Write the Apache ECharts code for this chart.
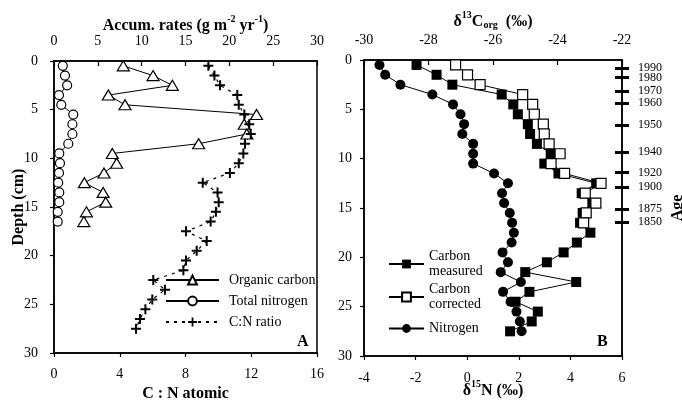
<!DOCTYPE html>
<html>
<head>
<meta charset="utf-8">
<script src="https://cdn.jsdelivr.net/npm/echarts@6/dist/echarts.min.js"></script>
<style>
  html, body { margin: 0; padding: 0; background: #fff; }
  #chart { width: 682px; height: 404px; }
</style>
</head>
<body>
<div id="chart"></div>
<script>
// depth of each slice (cm)
const depthA = [0.5, 1.5, 2.5, 3.5, 4.5, 5.5, 6.5, 7.5, 8.5, 9.5, 10.5, 11.5, 12.5, 13.5, 14.5, 15.5, 16.5];
const depthAll = [0.5, 1.5, 2.5, 3.5, 4.5, 5.5, 6.5, 7.5, 8.5, 9.5, 10.5, 11.5, 12.5, 13.5,
  14.5, 15.5, 16.5, 17.5, 18.5, 19.5, 20.5, 21.5, 22.5, 23.5, 24.5, 25.5, 26.5, 27.5];

// panel A
const organicCarbon = [7.9, 11.3, 13.5, 6.2, 8.1, 23.1, 21.7, 22.0, 16.5, 6.65, 7.15, 5.7, 3.46, 5.6, 5.9, 3.7, 3.4];
const totalNitrogen = [1.0, 1.25, 1.5, 0.57, 0.83, 2.2, 2.1, 2.1, 1.63, 0.6, 0.68, 0.57, 0.48, 0.6, 0.6, 0.42, 0.42];
const cnRatio = [9.39, 9.76, 10.1, 11.15, 11.24, 11.58, 11.88, 11.97, 11.62, 11.52, 11.24, 10.7, 9.05, 9.95,
  10.02, 9.85, 9.53, 8.03, 9.29, 8.68, 8.03, 7.87, 6.04, 6.75, 5.98, 5.56, 5.23, 4.99];

// panel B
const carbonMeasured = [-28.37, -27.75, -27.26, -25.73, -25.37, -25.23, -24.92, -24.85, -24.64, -24.21, -24.41, -23.97,
  -22.8, -23.25, -22.92, -23.22, -23.3, -22.98, -23.4, -23.81, -24.33, -25.0, -23.42, -24.87, -25.3, -24.61, -24.8, -25.47];
const carbonCorrected = [-27.16, -26.79, -26.4, -25.08, -24.77, -24.72, -24.44, -24.41, -24.26, -23.92, -24.2, -23.78,
  -22.65, -23.14, -22.81, -23.11, -23.19];
const nitrogen15 = [-3.4, -3.18, -2.59, -1.35, -0.55, -0.26, -0.12, -0.19, 0.23, 0.23, 0.23, 1.04, 1.58, 1.35,
  1.43, 1.65, 1.74, 1.81, 1.72, 1.37, 1.58, 1.3, 2.08, 1.39, 1.68, 1.91, 2.04, 2.11];

// age scale on the right of panel B
const ageDepth = [0.84, 1.79, 3.14, 4.39, 6.59, 9.3, 11.39, 12.85, 15.11, 16.4];
const ageYear = ['1990', '1980', '1970', '1960', '1950', '1940', '1920', '1900', '1875', '1850'];

const serif = 'Liberation Serif';
const black = '#000';
const plus = 'path://M4,0h2v4h4v2h-4v4h-2v-4h-4v-2h4z';

const pairs = (xs, ys) => xs.map((v, i) => [v, ys[i]]);
// labels split over two stacked axes so that close neighbours are not dropped
const ageEven = ageDepth.filter((d, i) => i % 2 === 0);
const ageOdd = ageDepth.filter((d, i) => i % 2 === 1);
const ageLabel = (v) => ageYear[ageDepth.indexOf(v)];

const nameRich = {
  b: { fontFamily: serif, fontWeight: 'bold', fontSize: 16, lineHeight: 24, color: black },
  sup: { fontFamily: serif, fontWeight: 'bold', fontSize: 10, lineHeight: 12, verticalAlign: 'top', color: black },
  sub: { fontFamily: serif, fontWeight: 'bold', fontSize: 10, lineHeight: 12, verticalAlign: 'middle', padding: [6, 0, 0, 0], color: black }
};

const labelStyle = { fontFamily: serif, fontSize: 14, color: black };
const lineStyle = { color: black, width: 1.5 };

function valAxis(extra) {
  return Object.assign({
    type: 'value',
    nameMoveOverlap: false,
    axisLine: { show: true, onZero: false, lineStyle: lineStyle },
    splitLine: { show: false },
    axisTick: { show: true, length: 4, lineStyle: { color: black, width: 1.2 } },
    axisLabel: Object.assign({}, labelStyle),
    nameTextStyle: { rich: nameRich }
  }, extra);
}

const chart = echarts.init(document.getElementById('chart'));

chart.setOption({
  animation: false,
  backgroundColor: '#fff',
  grid: [
    { left: 54, top: 61, width: 263, height: 292, show: true, borderColor: black, borderWidth: 1.5, outerBoundsMode: 'none', containLabel: false },
    { left: 364, top: 60, width: 258, height: 296, show: true, borderColor: black, borderWidth: 1.5, outerBoundsMode: 'none', containLabel: false }
  ],
  xAxis: [
    valAxis({
      gridIndex: 0, position: 'top', min: 0, max: 30, interval: 5,
      axisTick: { show: true, inside: true, length: 5, lineStyle: { color: black, width: 1.2 } },
      axisLabel: Object.assign({ margin: 13 }, labelStyle),
      name: '{b|Accum. rates (g m}{sup|-2}{b| yr}{sup|-1}{b|)}',
      nameLocation: 'middle', nameGap: 23
    }),
    valAxis({
      gridIndex: 0, position: 'bottom', min: 0, max: 16, interval: 4,
      axisLabel: Object.assign({ margin: 14 }, labelStyle),
      name: '{b|C : N atomic}', nameLocation: 'middle', nameGap: 29
    }),
    valAxis({
      gridIndex: 1, position: 'top', min: -30, max: -22, interval: 2,
      axisTick: { show: true, inside: true, length: 5, lineStyle: { color: black, width: 1.2 } },
      axisLabel: Object.assign({ margin: 13 }, labelStyle),
      name: '{b|δ}{sup|13}{b|C}{sub|org}{b|  (‰)}', nameLocation: 'middle', nameGap: 26
    }),
    valAxis({
      gridIndex: 1, position: 'bottom', min: -4, max: 6, interval: 2,
      axisLabel: Object.assign({ margin: 15 }, labelStyle),
      name: '{b|δ}{sup|15}{b|N (‰)}', nameLocation: 'middle', nameGap: 23
    })
  ],
  yAxis: [
    valAxis({
      gridIndex: 0, position: 'left', inverse: true, min: 0, max: 30, interval: 5,
      axisLabel: Object.assign({ margin: 16 }, labelStyle),
      name: '{b|Depth (cm)}', nameLocation: 'middle', nameRotate: 90, nameGap: 23
    }),
    valAxis({
      gridIndex: 1, position: 'left', inverse: true, min: 0, max: 30, interval: 5,
      axisLabel: Object.assign({ margin: 12 }, labelStyle)
    }),
    valAxis({
      gridIndex: 1, position: 'right', inverse: true, min: 0, max: 30,
      axisTick: { show: true, length: 7, customValues: ageDepth, lineStyle: { color: black, width: 3 } },
      axisLabel: {
        fontFamily: serif, fontSize: 12, color: black, margin: 16,
        customValues: ageEven, showMinLabel: true, showMaxLabel: true, formatter: ageLabel
      },
      name: '{b|Age}', nameLocation: 'middle', nameRotate: 90, nameGap: 44
    }),
    valAxis({
      gridIndex: 1, position: 'right', inverse: true, min: 0, max: 30,
      axisLine: { show: false, onZero: false },
      axisTick: { show: true, inside: true, length: 7, customValues: ageDepth, lineStyle: { color: black, width: 3 } },
      axisLabel: {
        fontFamily: serif, fontSize: 12, color: black, margin: 16,
        customValues: ageOdd, showMinLabel: true, showMaxLabel: true, formatter: ageLabel
      }
    })
  ],
  legend: [
    {
      left: 165, top: 270, orient: 'vertical', padding: 0, itemGap: 1,
      itemWidth: 53, itemHeight: 11,
      textStyle: { fontFamily: serif, fontSize: 14, color: black, lineHeight: 20, padding: [0, 0, 0, 5] },
      data: ['Organic carbon', 'Total nitrogen', 'C:N ratio']
    },
    {
      left: 388, top: 249, orient: 'vertical', padding: 0, itemGap: 3,
      itemWidth: 35, itemHeight: 11,
      textStyle: { fontFamily: serif, fontSize: 14, color: black, lineHeight: 15 },
      formatter: (n) => n.replace(' ', '\n'),
      data: ['Carbon measured', 'Carbon corrected']
    },
    {
      left: 388, top: 321, orient: 'vertical', padding: 0,
      itemWidth: 35, itemHeight: 11,
      textStyle: { fontFamily: serif, fontSize: 14, color: black, lineHeight: 15 },
      data: ['Nitrogen']
    }
  ],
  series: [
    {
      name: 'Organic carbon', type: 'line', xAxisIndex: 0, yAxisIndex: 0,
      data: pairs(organicCarbon, depthA),
      symbol: 'triangle', symbolSize: [12, 10],
      itemStyle: { color: '#fff', borderColor: black, borderWidth: 1.2 },
      lineStyle: { color: black, width: 1 }
    },
    {
      name: 'Total nitrogen', type: 'line', xAxisIndex: 0, yAxisIndex: 0,
      data: pairs(totalNitrogen, depthA),
      symbol: 'circle', symbolSize: 9,
      itemStyle: { color: '#fff', borderColor: black, borderWidth: 1.2 },
      lineStyle: { color: black, width: 1 }
    },
    {
      name: 'C:N ratio', type: 'line', xAxisIndex: 1, yAxisIndex: 0,
      data: pairs(cnRatio, depthAll),
      symbol: plus, symbolSize: 10,
      itemStyle: { color: black },
      lineStyle: { color: black, width: 1.2, type: [3, 5] }
    },
    {
      name: 'Carbon measured', type: 'line', xAxisIndex: 2, yAxisIndex: 1,
      data: pairs(carbonMeasured, depthAll),
      symbol: 'rect', symbolSize: 10,
      itemStyle: { color: black },
      lineStyle: { color: black, width: 1 }
    },
    {
      name: 'Carbon corrected', type: 'line', xAxisIndex: 2, yAxisIndex: 1,
      data: pairs(carbonCorrected, depthA),
      symbol: 'rect', symbolSize: 10,
      itemStyle: { color: '#fff', borderColor: black, borderWidth: 1.2 },
      lineStyle: { color: black, width: 1 }
    },
    {
      name: 'Nitrogen', type: 'line', xAxisIndex: 3, yAxisIndex: 1,
      data: pairs(nitrogen15, depthAll),
      symbol: 'circle', symbolSize: 10,
      itemStyle: { color: black },
      lineStyle: { color: black, width: 1 }
    }
  ],
  graphic: [
    { type: 'text', left: 297, top: 334, style: { text: 'A', fontFamily: serif, fontWeight: 'bold', fontSize: 16, fill: black } },
    { type: 'text', left: 597, top: 334, style: { text: 'B', fontFamily: serif, fontWeight: 'bold', fontSize: 16, fill: black } }
  ]
});
</script>
</body>
</html>
